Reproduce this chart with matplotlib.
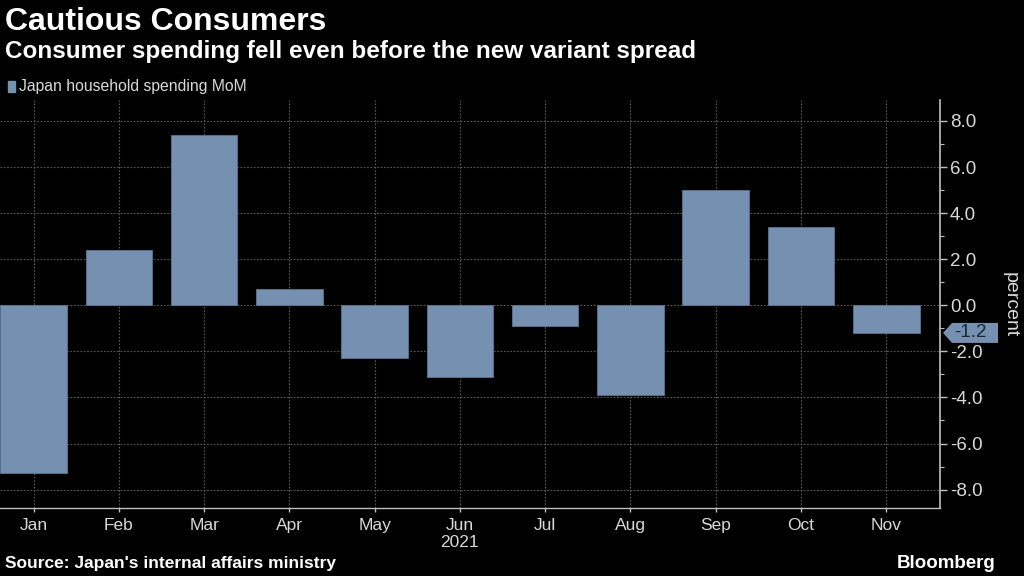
import matplotlib
matplotlib.use("Agg")
import matplotlib.pyplot as plt
from matplotlib.ticker import MultipleLocator
from matplotlib.transforms import blended_transform_factory
from matplotlib.patches import Polygon
import numpy as np

months = ["Jan", "Feb", "Mar", "Apr", "May", "Jun", "Jul", "Aug", "Sep", "Oct", "Nov"]
spending_mom = [-7.3, 2.4, 7.4, 0.7, -2.3, -3.1, -0.9, -3.9, 5.0, 3.4, -1.2]
year_label = "2021"
series_name = "Japan household spending MoM"

bg = "#000000"
bar_col = "#7590B1"
txt_col = "#d9d9d9"
plt.rcParams['font.family'] = ['Liberation Sans', 'DejaVu Sans']

fig = plt.figure(figsize=(10.24, 5.76), dpi=100, facecolor=bg)
ax = fig.add_axes([0.0, 0.118, 0.918, 0.708], facecolor=bg)

x = np.arange(len(months))
ax.bar(x, spending_mom, width=0.78, color=bar_col, edgecolor="#5d7491",
       linewidth=0.6, zorder=3)

ax.set_xlim(-0.393, 10.63)
ax.set_ylim(-8.8, 8.9)

# axes / spines
for s in ["left", "top"]:
    ax.spines[s].set_visible(False)
ax.spines["right"].set_color("#bfbfbf")
ax.spines["bottom"].set_color("#bfbfbf")
ax.spines["right"].set_linewidth(1.2)
ax.spines["bottom"].set_linewidth(1.0)

ax.yaxis.tick_right()
ax.yaxis.set_label_position("right")
ax.yaxis.set_major_locator(MultipleLocator(2))
ax.yaxis.set_minor_locator(MultipleLocator(1))
ax.yaxis.set_major_formatter(lambda v, p: f"{v:.1f}")
ax.tick_params(axis="y", which="major", colors="#bfbfbf", labelcolor=txt_col,
               labelsize=13.5, length=5, width=1, pad=2)
ax.tick_params(axis="y", which="minor", colors="#bfbfbf", length=3, width=0.8)
ax.set_xticks(x)
ax.set_xticklabels(months)
ax.tick_params(axis="x", colors="#bfbfbf", labelcolor=txt_col, labelsize=12.5,
               length=3, width=1, pad=4)
ax.set_ylabel("percent", color=txt_col, fontsize=14, rotation=270, labelpad=26)

ax.grid(True, which="major", color="#5a5a5a", linestyle=(0, (1.5, 1.5)),
        linewidth=0.8, zorder=0)

# last value tag (pentagon pointing at the axis)
last = spending_mom[-1]
tip_x, tip_y = ax.transData.transform((ax.get_xlim()[1], last))
tip_x += 3
hh = 10
tag = Polygon([(tip_x, tip_y), (tip_x + 9, tip_y + hh), (tip_x + 55, tip_y + hh),
               (tip_x + 55, tip_y - hh), (tip_x + 9, tip_y - hh)],
              closed=True, fc=bar_col, ec="none", transform=None, figure=fig)
fig.patches.append(tag)
fig.text((tip_x + 11) / fig.bbox.width, tip_y / fig.bbox.height, f"{last:.1f}",
         ha="left", va="center", fontsize=13.5, color="#1b2638", zorder=5)

# titles and notes
fig.text(0.005, 0.962, "Cautious Consumers", color="white", fontsize=23,
         fontweight="bold", va="center", ha="left")
fig.text(0.005, 0.911, "Consumer spending fell even before the new variant spread",
         color="white", fontsize=17.5, fontweight="bold", va="center", ha="left")
fig.patches.append(plt.Rectangle((0.008, 0.84), 0.0068, 0.019, color=bar_col,
                                 transform=fig.transFigure, figure=fig))
fig.text(0.0185, 0.849, series_name, color=txt_col, fontsize=11.3, va="center",
         ha="left")
xyear = ax.transData.transform((5, 0))[0] / fig.bbox.width
fig.text(xyear, 0.058, year_label, color=txt_col, fontsize=12.5, ha="center",
         va="center")
fig.text(0.005, 0.021, "Source: Japan's internal affairs ministry", color="white",
         fontsize=12.5, fontweight="bold", va="center", ha="left")
fig.text(0.972, 0.022, "Bloomberg", color="white", fontsize=13.5,
         fontweight="bold", va="center", ha="right")

fig.savefig("out.png", dpi=100, facecolor=bg)
